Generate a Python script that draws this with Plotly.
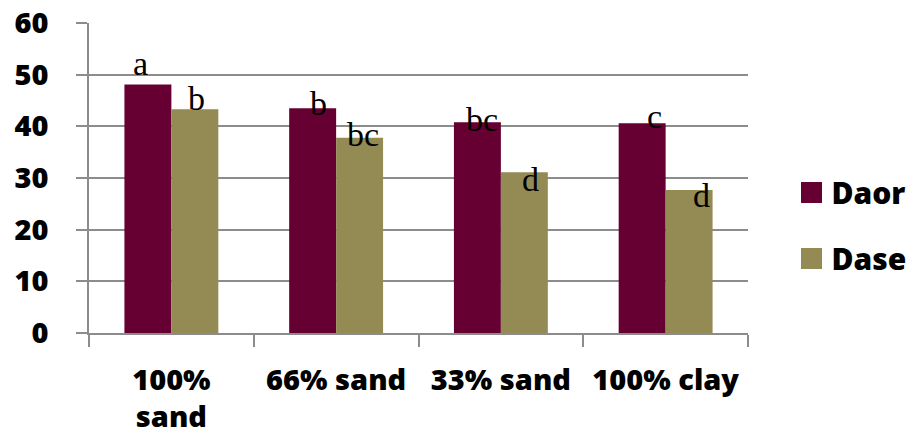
import plotly.graph_objects as go

categories = ["100%<br>sand", "66% sand", "33% sand", "100% clay"]
daor = [48.1, 43.5, 40.8, 40.6]
dase = [43.3, 37.8, 31.1, 27.7]
daor_letters = ["a", "b", "bc", "c"]
dase_letters = ["b", "bc", "d", "d"]
y_ticks = [0, 10, 20, 30, 40, 50, 60]

# label nudges (pixels) relative to bar top-centre
daor_dx = [-7, 6, 5, 12]
daor_dy = [21, 5, 3, 7]
dase_dx = [2, 3, 6, 12]
dase_dy = [11, 3, -7, -6]

C_DAOR = "#660033"
C_DASE = "#948A54"
GRID = "#8c8c8c"

fig = go.Figure()
fig.add_trace(go.Bar(x=categories, y=daor, name="Daor", marker_color=C_DAOR,
                     marker_line_width=0, showlegend=False))
fig.add_trace(go.Bar(x=categories, y=dase, name="Dase", marker_color=C_DASE,
                     marker_line_width=0, showlegend=False))
# legend proxies with larger squares
for nm, col in [("Daor", C_DAOR), ("Dase", C_DASE)]:
    fig.add_trace(go.Scatter(x=[categories[0]], y=[None], mode="markers", name=nm,
                             legendgroup=nm,
                             marker=dict(symbol="square", size=16, color=col,
                                         line=dict(color=col, width=5))))

BAR_HALF = 23.5
ann = []
for i, c in enumerate(categories):
    ann.append(dict(x=c, y=daor[i], text=daor_letters[i], showarrow=False,
                    xshift=-BAR_HALF + daor_dx[i], yshift=daor_dy[i],
                    yanchor="middle", font=dict(family="Liberation Serif", size=34, color="black")))
    ann.append(dict(x=c, y=dase[i], text=dase_letters[i], showarrow=False,
                    xshift=BAR_HALF + dase_dx[i], yshift=dase_dy[i],
                    yanchor="middle", font=dict(family="Liberation Serif", size=34, color="black")))

fig.update_layout(
    width=911, height=439,
    margin=dict(l=89, r=163, t=23, b=106, autoexpand=False),
    paper_bgcolor="white", plot_bgcolor="white",
    barmode="group", bargap=0.43, bargroupgap=0,
    annotations=ann,
    showlegend=True,
    legend=dict(x=1.066, xanchor="left", y=0.347, yanchor="middle",
                font=dict(family="Open Sans", size=30, color="black", weight=800),
                traceorder="grouped", tracegroupgap=24, itemwidth=30,
                bgcolor="rgba(0,0,0,0)"),
    xaxis=dict(type="category", tickson="boundaries", ticks="outside", ticklen=12,
               tickcolor=GRID, tickwidth=1.5, showline=True, linecolor=GRID, linewidth=1.5,
               showgrid=False, automargin=False, tickangle=0,
               tickfont=dict(family="Open Sans", size=29, color="black", weight=800),
               ticklabelstandoff=20),
    yaxis=dict(range=[0, 60], tickvals=y_ticks, ticks="outside", ticklen=11,
               tickcolor=GRID, tickwidth=1.5, showline=True, linecolor=GRID, linewidth=1.5,
               showgrid=True, gridcolor=GRID, gridwidth=1.5, zeroline=False, automargin=False,
               tickfont=dict(family="Open Sans", size=29, color="black", weight=800),
               ticklabelstandoff=22),
)

fig.write_html("out.html")
